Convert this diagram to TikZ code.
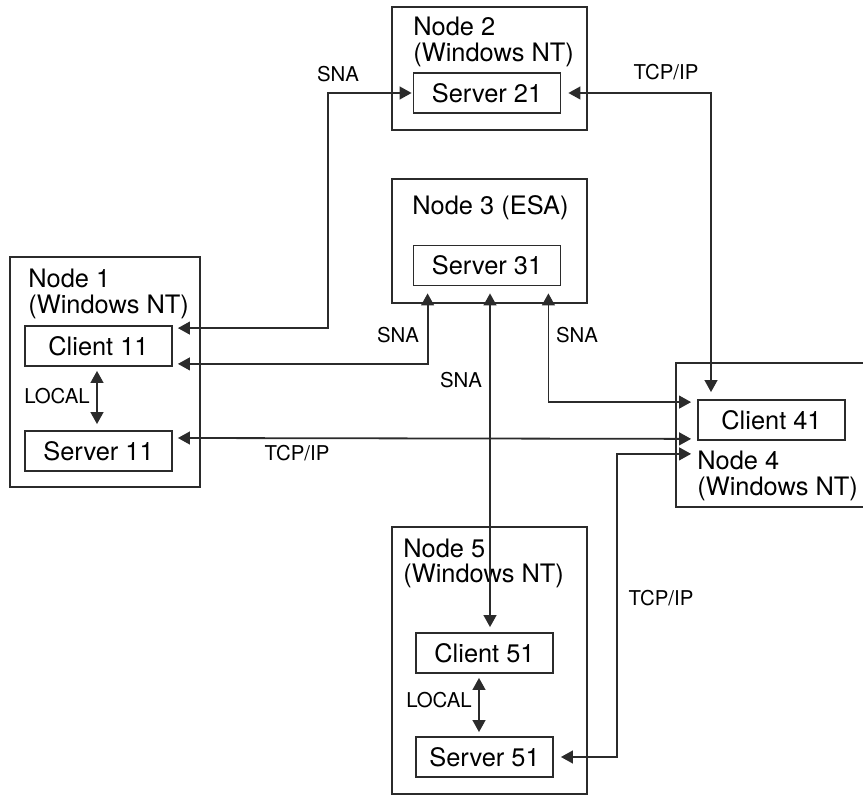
\documentclass[tikz,border=0pt]{standalone}
\usepackage{fontspec}
\setsansfont{TeX Gyre Heros}
\usepackage{tikz}
\usetikzlibrary{arrows.meta,calc}
\definecolor{lnK}{HTML}{2B2B2B}

\begin{document}
\begin{tikzpicture}[x=0.5pt, y=-0.5pt, font=\sffamily\fontsize{12.7}{13}\selectfont,
  frame/.style={draw=lnK, line width=0.9pt, inner sep=0pt},
  box/.style={draw=lnK, line width=0.9pt, inner sep=0pt, minimum width=73.5pt, minimum height=20pt},
  smallbox/.style={box, minimum width=68.5pt},
  title/.style={anchor=base west, align=left, inner sep=0pt},
  both/.style={{Triangle[length=6pt,width=6.4pt]}-{Triangle[length=6pt,width=6.4pt]}, line width=0.9pt, draw=lnK},
  lab/.style={font=\sffamily\fontsize{10.2}{12}\selectfont, inner sep=0pt},
  ]
\useasboundingbox (0,0) rectangle (863,796);
% ---- the node frames
\node[frame, minimum width=95pt, minimum height=115pt] (n1) at (105,372) {};
\node[frame, minimum width=97.5pt, minimum height=61.5pt] (n2) at (489.5,68.5) {};
\node[frame, minimum width=97.5pt, minimum height=62pt] (n3) at (489.5,241) {};
\node[frame, minimum width=97.5pt, minimum height=133.5pt] (n5) at (489.5,660.5) {};
\draw[draw=lnK, line width=0.9pt] (864,363) -| (676,507) -- (864,507);
% base of a two-line title is its last line
\node[title] (t1) at (28,314) {Node 1\\(Windows NT)};
\node[title] (t2) at (413,62) {Node 2\\(Windows NT)};
\node[title] (t3) at (412,215) {Node 3 (ESA)};
\node[title] (t4) at (697,496) {Node 4\\(Windows NT)};
\node[title] (t5) at (403,583) {Node 5\\(Windows NT)};
% ---- the programs
\node[box] (c11) at (98.5,346) {Client 11};
\node[box] (s11) at (98.5,451) {Server 11};
\node[box] (s21) at (487,93) {Server 21};
\node[box] (s31) at (487,265.5) {Server 31};
\node[box] (c41) at (771.5,420) {Client 41};
\node[smallbox] (c51) at (484.5,653) {Client 51};
\node[smallbox] (s51) at (484.5,757) {Server 51};
% ---- the links
\draw[both] ($(c11.north east)+(5,3)$) -| ($(s21.west)+(-85,0)$) -- ($(s21.west)+(-1,0)$);
\draw[both] ($(c11.south east)+(5,-3)$) -| ($(s31.south west)+(15,7)$);
\draw[both] ($(s31.south east)+(-13,7)$) |- ($(c41.north west)+(-6,3)$);
\coordinate (up3) at ($(s31.south)+(3,7)$);
\draw[both] (up3) -- ($(up3 |- c51.north)+(0,-5)$);
\draw[both] ($(s11.east)+(5,-13)$) -- ($(c41.south west)+(-6,-2)$);
\draw[both] ($(s21.east)+(7,0)$) -| ($(c41.north)+(-60.5,-7)$);
\coordinate (in4) at ($(c41.south west)+(-6,13)$);
\draw[both] ($(s51.east)+(7,0)$) -| ($(in4)+(-74,0)$) -- (in4);
\draw[both] ($(c11.south)+(-1.5,4)$) -- ($(s11.north)+(-1.5,-6)$);
\draw[both] ($(c51.south)+(-5.5,4)$) -- ($(s51.north)+(-5.5,-4)$);
% ---- the labels
\node[lab] (l1) at (338,74) {SNA};
\node[lab] (l2) at (666,72) {TCP/IP};
\node[lab] (l3) at (398,335) {SNA};
\node[lab] (l4) at (577,335) {SNA};
\node[lab] (l5) at (461,380) {SNA};
\node[lab] (l6) at (297,453) {TCP/IP};
\node[lab] (l7) at (661,598) {TCP/IP};
\node[lab] (l8) at (57,396) {LOCAL};
\node[lab] (l9) at (439,700) {LOCAL};
\end{tikzpicture}
\end{document}
